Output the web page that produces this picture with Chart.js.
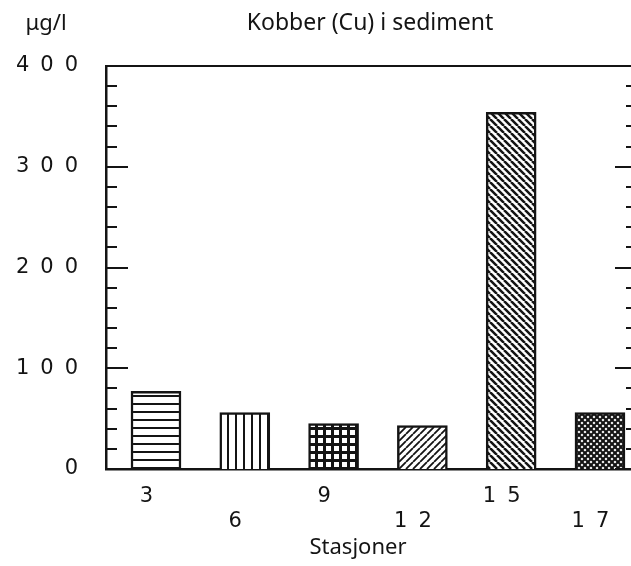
<!DOCTYPE html>
<html>
<head>
<meta charset="utf-8">
<script src="https://cdn.jsdelivr.net/npm/chart.js@4"></script>
<style>
  html, body { margin: 0; padding: 0; background: #fff; overflow: hidden; }
  canvas { display: block; }
</style>
</head>
<body>
<!-- canvas a bit wider than the window: the right frame edge falls outside the picture -->
<canvas id="cuChart" width="640" height="566"></canvas>
<script>
// Data
const stations = ["3", "6", "9", "12", "15", "17"];
const copper = [77, 56, 45, 43, 354, 56];
const yTicks = [0, 100, 200, 300, 400];
const minorStep = 20;

// hatch style per bar
const hatches = ["hlines", "vlines", "grid", "fdiag", "bdiag", "cross"];

const INK = "#141414";
const DIGIT_FONT = { family: '"DejaVu Sans", sans-serif', size: 21 };
const TITLE_FONT = '23px "Noto Sans", "Open Sans", sans-serif';
const TEXT_FONT = '22px "Noto Sans", "Open Sans", sans-serif';

// ============== Patterns ==============

function makePattern(kind) {
  const s = kind === "cross" ? 6 : kind === "fdiag" || kind === "bdiag" ? 7 : 8;
  const c = document.createElement("canvas");
  c.width = s;
  c.height = s;
  const g = c.getContext("2d");
  g.fillStyle = "#fff";
  g.fillRect(0, 0, s, s);
  g.fillStyle = INK;
  g.strokeStyle = INK;
  if (kind === "hlines") g.fillRect(0, 3, s, 2);
  if (kind === "vlines") g.fillRect(3, 0, 2, s);
  if (kind === "grid") {
    g.fillRect(0, 3, s, 3);
    g.fillRect(3, 0, 3, s);
  }
  const diag = (dir, lw) => {
    g.lineWidth = lw;
    g.beginPath();
    for (const k of [-s, 0, s]) {
      if (dir > 0) {
        g.moveTo(k, s);
        g.lineTo(k + s, 0);
      } else {
        g.moveTo(k, 0);
        g.lineTo(k + s, s);
      }
    }
    g.stroke();
  };
  if (kind === "fdiag") diag(1, 1.8);
  if (kind === "bdiag") diag(-1, 2.5);
  if (kind === "cross") {
    diag(1, 2.1);
    diag(-1, 2.1);
  }
  return g.createPattern(c, "repeat");
}

// ============== Frame plugin ==============

const framePlugin = {
  id: "frame",
  beforeDraw(chart) {
    // wide plotter-style digits on the axes
    chart.ctx.letterSpacing = "11px";
  },
  beforeDatasetsDraw(chart) {
    chart.ctx.letterSpacing = "0px";
  },
  afterDatasetsDraw(chart) {
    const { ctx, chartArea } = chart;
    const y = chart.scales.y;
    ctx.save();
    ctx.strokeStyle = INK;
    ctx.lineWidth = 2;
    ctx.beginPath();
    // top edge
    ctx.moveTo(chartArea.left, chartArea.top);
    ctx.lineTo(chartArea.right, chartArea.top);
    // inward ticks, left and right
    for (let v = y.min; v <= y.max; v += minorStep) {
      const py = Math.round(y.getPixelForValue(v));
      const len = v % 100 === 0 ? 22 : 11;
      ctx.moveTo(chartArea.left, py);
      ctx.lineTo(chartArea.left + len, py);
      ctx.moveTo(chartArea.right, py);
      ctx.lineTo(chartArea.right - len, py);
    }
    ctx.stroke();
    ctx.restore();
  },
  afterDraw(chart) {
    const { ctx } = chart;
    ctx.save();
    ctx.letterSpacing = "0px";
    ctx.fillStyle = INK;
    ctx.textAlign = "center";
    ctx.textBaseline = "middle";
    ctx.font = TITLE_FONT;
    ctx.fillText("Kobber (Cu) i sediment", 370, 23);
    ctx.font = TEXT_FONT;
    ctx.fillText("μg/l", 46, 24);
    ctx.fillText("Stasjoner", 358, 548);
    ctx.restore();
  },
};

// ============== Chart ==============

const ctx = document.getElementById("cuChart").getContext("2d");

new Chart(ctx, {
  type: "bar",
  data: {
    datasets: [
      {
        data: stations.map((s, i) => ({ x: i, y: copper[i] })),
        backgroundColor: hatches.map(makePattern),
        borderColor: INK,
        borderWidth: 2.5,
        barThickness: 50,
      },
    ],
  },
  options: {
    responsive: false,
    animation: false,
    layout: { padding: { top: 66, right: 3, left: 0, bottom: 0 } },
    plugins: {
      legend: { display: false },
      tooltip: { enabled: false },
    },
    scales: {
      x: {
        type: "linear",
        offset: false,
        min: -0.563,
        max: 5.417,
        afterBuildTicks: (s) => {
          s.ticks = stations.map((_, i) => ({ value: i }));
        },
        afterFit: (s) => {
          s.height = 97;
        },
        grid: { display: false, drawTicks: false, offset: false },
        border: { color: INK, width: 2.5 },
        ticks: {
          padding: 15,
          labelOffset: -4,
          maxRotation: 0,
          autoSkip: false,
          color: INK,
          font: DIGIT_FONT,
          callback: (v) => (v % 2 ? ["", stations[v]] : stations[v]),
        },
      },
      y: {
        min: 0,
        max: 400,
        afterBuildTicks: (s) => {
          s.ticks = yTicks.map((v) => ({ value: v }));
        },
        afterFit: (s) => {
          s.width = 106;
        },
        grid: { display: false, drawTicks: false },
        border: { color: INK, width: 2.5 },
        ticks: {
          padding: 17,
          color: INK,
          font: DIGIT_FONT,
        },
      },
    },
  },
  plugins: [framePlugin],
});
</script>
</body>
</html>
